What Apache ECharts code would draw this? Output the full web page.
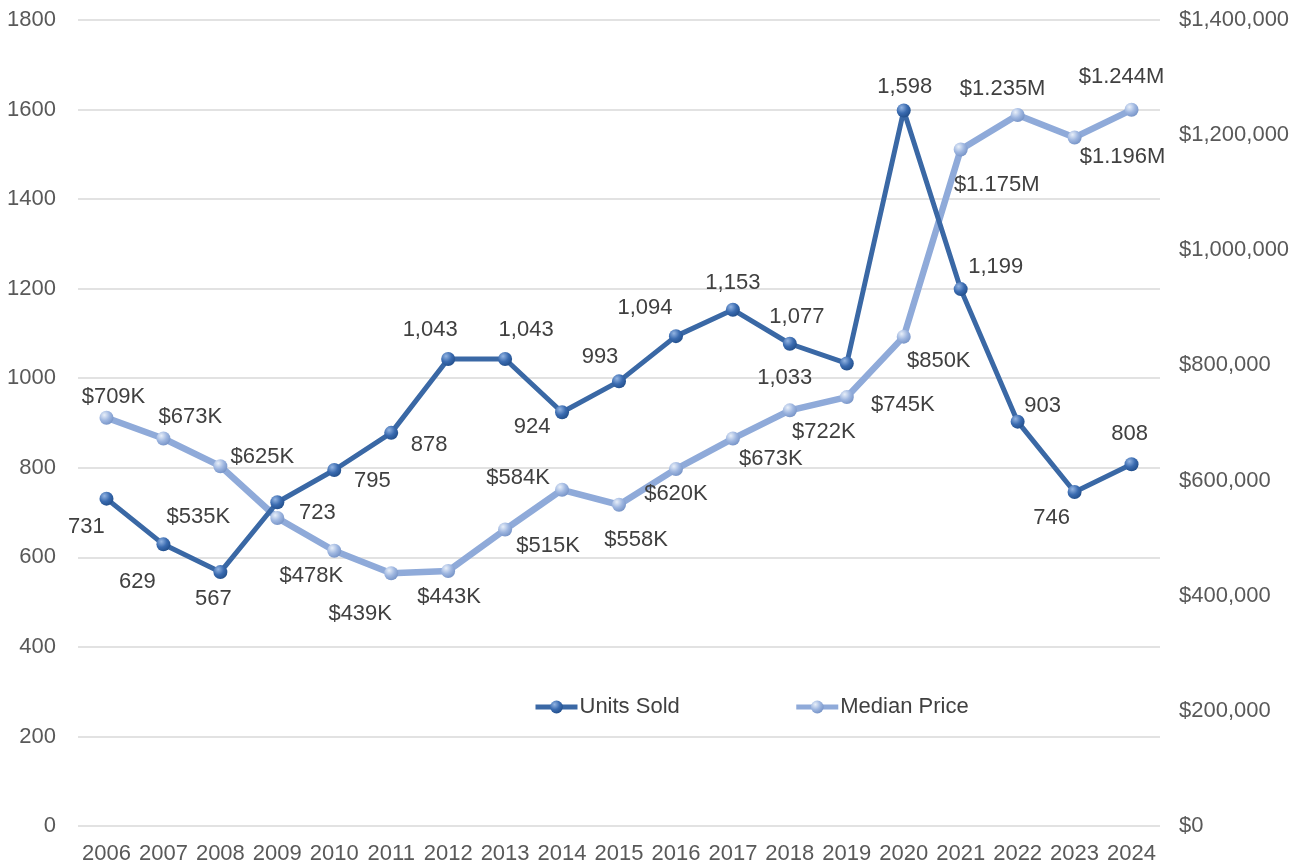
<!DOCTYPE html>
<html><head><meta charset="utf-8">
<script src="https://cdn.jsdelivr.net/npm/echarts@6/dist/echarts.min.js"></script>
<style>html,body{margin:0;padding:0;background:#fff}#c{width:1299px;height:865px}</style>
</head><body><div id="c"></div>
<script>
const years = ['2006','2007','2008','2009','2010','2011','2012','2013','2014','2015','2016','2017','2018','2019','2020','2021','2022','2023','2024'];
const unitsSold = [731,629,567,723,795,878,1043,1043,924,993,1094,1153,1077,1033,1598,1199,903,746,808];
const medianPrice = [709000,673000,625000,535000,478000,439000,443000,515000,584000,558000,620000,673000,722000,745000,850000,1175000,1235000,1196000,1244000];
const unitsLabels = ['731','629','567','723','795','878','1,043','1,043','924','993','1,094','1,153','1,077','1,033','1,598','1,199','903','746','808'];
const priceLabels = ['$709K','$673K','$625K','$535K','$478K','$439K','$443K','$515K','$584K','$558K','$620K','$673K','$722K','$745K','$850K','$1.175M','$1.235M','$1.196M','$1.244M'];

// label offsets (style only), relative to the point
const unitsOff = [[-20,28],[-26,38],[-7,27],[40,11],[38,11],[38,12],[-18,-29],[21,-29],[-30,15],[-19,-24],[-31,-28],[0,-27],[7,-27],[-62,14],[1,-24],[35,-22],[25,-16],[-23,26],[-2,-30]];
const priceOff = [[7,-21],[27,-22],[42,-9],[-79,-1],[-23,25],[-31,41],[1,26],[43,16],[-44,-12],[17,35],[0,25],[38,20],[34,22],[56,8],[35,24],[36,35],[-15,-26],[48,19],[-10,-33]];

function sphere(light, mid, dark){
  return {type:'radial',x:0.35,y:0.3,r:0.8,colorStops:[{offset:0,color:light},{offset:0.5,color:mid},{offset:1,color:dark}]};
}
const unitsColor = '#3A68A5';
const priceColor = '#8FAAD9';
const font = 'Liberation Sans, Arial, sans-serif';

const chart = echarts.init(document.getElementById('c'));
chart.setOption({
  animation:false,
  textStyle:{fontFamily:font},
  grid:{left:78,right:139,top:20,bottom:39,containLabel:false},
  legend:{
    left:528, top:691, itemGap:114, itemWidth:42, itemHeight:16,
    textStyle:{fontSize:22,color:'#404040',fontFamily:font,padding:[0,0,0,-3]},
    lineStyle:{width:5},
    data:['Units Sold','Median Price']
  },
  xAxis:{
    type:'category', data:years, boundaryGap:true,
    axisLine:{show:false}, axisTick:{show:false},
    axisLabel:{fontSize:22,color:'#595959',margin:17,interval:0}
  },
  yAxis:[
    {type:'value',min:0,max:1800,interval:200,
     axisLine:{show:false},axisTick:{show:false},
     axisLabel:{fontSize:22,color:'#595959',margin:22,formatter:v=>String(v)},
     splitLine:{lineStyle:{color:'#D9D9D9',width:1.5}}},
    {type:'value',min:0,max:1400000,interval:200000,position:'right',
     axisLine:{show:false},axisTick:{show:false},
     axisLabel:{fontSize:22,color:'#595959',margin:19,
       formatter:v=>'$'+v.toLocaleString('en-US')},
     splitLine:{show:false}}
  ],
  series:[
    {name:'Median Price',type:'line',yAxisIndex:1,z:2,
     data:medianPrice.map((v,i)=>({value:v,label:{offset:priceOff[i]}})),
     symbol:'circle',symbolSize:14,
     lineStyle:{color:priceColor,width:6.5},
     itemStyle:{color:sphere('#E8EFF9','#9EB6E0','#6F8DC2'),borderWidth:0},
     label:{show:true,position:'inside',fontSize:22,color:'#404040',
       formatter:p=>priceLabels[p.dataIndex]}},
    {name:'Units Sold',type:'line',yAxisIndex:0,z:3,
     data:unitsSold.map((v,i)=>({value:v,label:{offset:unitsOff[i]}})),
     symbol:'circle',symbolSize:14,
     lineStyle:{color:unitsColor,width:5},
     itemStyle:{color:sphere('#93B4E2','#3A6BB0','#1E4A85'),borderWidth:0},
     label:{show:true,position:'inside',fontSize:22,color:'#404040',
       formatter:p=>unitsLabels[p.dataIndex]}}
  ]
});
</script></body></html>
